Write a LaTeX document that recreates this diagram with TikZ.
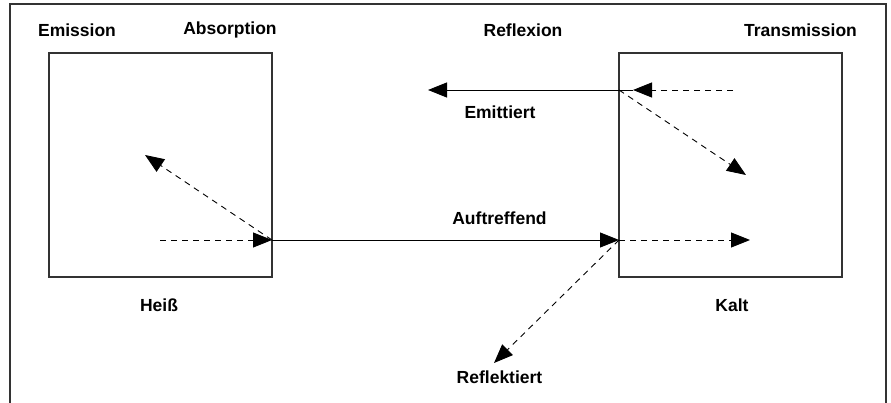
\documentclass[tikz,border=0pt]{standalone}
\usepackage{fontspec}
\setmainfont{Liberation Sans}
\usetikzlibrary{arrows.meta}
\begin{document}
\begin{tikzpicture}[x=1pt,y=-1pt,
  lbl/.style={font=\fontsize{17.5}{20}\selectfont\bfseries, inner sep=0pt, text=black},
  body/.style={draw=black!80, line width=1.3pt, minimum width=223pt, minimum height=224pt, inner sep=0pt},
  tip/.style={-{Triangle[length=19pt,width=15pt]}},
  ray/.style={tip, line width=0.9pt, black},
  dray/.style={tip, line width=0.9pt, black, dash pattern=on 6pt off 5pt}]
\useasboundingbox (0,0) rectangle (891,403);
\draw[black!80, line width=1.3pt] (10,403) -- (10,4) -- (886,4) -- (886,403);
\node[body] (hot) at (160.5,165) {};
\node[body] (cold) at (730.5,165) {};
\node[lbl] (emission) at (77,30) {Emission};
\node[lbl] (absorption) at (230,30) {Absorption};
\node[lbl] (reflexion) at (523,30) {Reflexion};
\node[lbl] (transmission) at (800.5,30) {Transmission};
\node[lbl] (emittiert) at (500,112) {Emittiert};
\node[lbl] (auftreffend) at (499.5,218) {Auftreffend};
\node[lbl] (heiss) at (159,305) {Heiß};
\node[lbl] (kalt) at (732,305) {Kalt};
\node[lbl] (reflektiert) at (499.5,377) {Reflektiert};
% points
\coordinate (a1) at (160,240);
\coordinate (a2) at (272,240);
\coordinate (a3) at (145,155);
\coordinate (b1) at (619,240);
\coordinate (b2) at (750,240);
\coordinate (b3) at (494,363);
\coordinate (c0) at (619,90);
\coordinate (c1) at (633,90);
\coordinate (c2) at (428,90);
\coordinate (c3) at (733,90);
\coordinate (c4) at (746,175);
% rays
\draw[dray] (a1) -- (a2);
\draw[dray] (a2) -- (a3);
\draw[ray] (a2) -- (b1);
\draw[dray] (b1) -- (b2);
\draw[dray] (b1) -- (b3);
\draw[ray] (c1) -- (c2);
\draw[dray] (c3) -- (c1);
\draw[dray] (c0) -- (c4);
\end{tikzpicture}
\end{document}
